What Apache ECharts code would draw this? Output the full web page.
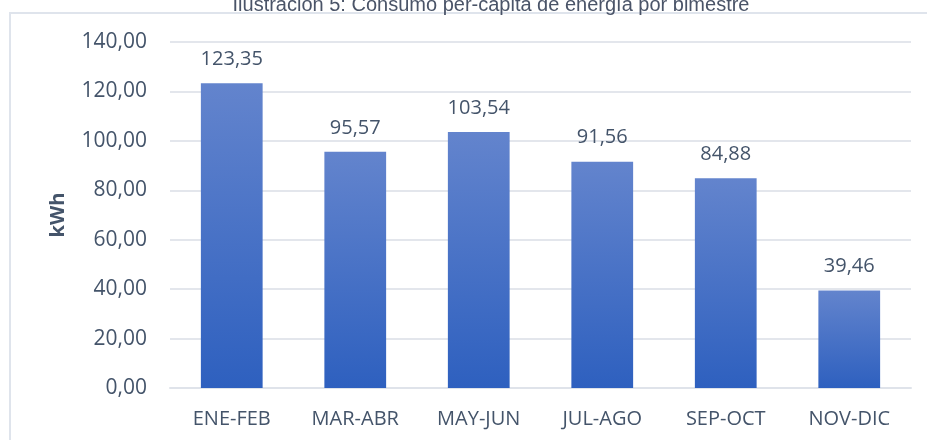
<!DOCTYPE html>
<html>
<head>
<meta charset="utf-8">
<script src="https://cdn.jsdelivr.net/npm/echarts@6/dist/echarts.min.js"></script>
<style>
  html, body { margin: 0; padding: 0; background: #fff; }
  #chart { width: 927px; height: 440px; }
</style>
</head>
<body>
<div id="chart"></div>
<script>
const titleText = 'Ilustración 5: Consumo per-cápita de energía por bimestre'
const categories = ['ENE-FEB', 'MAR-ABR', 'MAY-JUN', 'JUL-AGO', 'SEP-OCT', 'NOV-DIC']
const consumo = [123.35, 95.57, 103.54, 91.56, 84.88, 39.46]
const yTicks = { min: 0, max: 140, interval: 20 }

// comma as decimal separator
const fmt = v => Number(v).toFixed(2).replace('.', ',')

const chart = echarts.init(document.getElementById('chart'), null, { renderer: 'canvas' })

const textColor = '#44546a'
const font = '"Open Sans", "Noto Sans", sans-serif'

chart.setOption({
  animation: false,
  title: {
    text: titleText,
    left: 486,
    textAlign: 'center',
    top: -10,
    textStyle: { fontFamily: 'Liberation Sans, Arial', fontSize: 20, fontWeight: 'normal', color: '#4a5468' }
  },
  graphic: [{
    type: 'rect',
    shape: { x: 10, y: 13, width: 930, height: 440 },
    style: { fill: 'none', stroke: '#dfe4ec', lineWidth: 2 },
    z: -1
  }],
  grid: { left: 170, right: 16, top: 42, bottom: 52 },
  xAxis: {
    type: 'category',
    data: categories,
    axisTick: { show: false },
    axisLine: { lineStyle: { color: '#dfe3ea', width: 2 } },
    axisLabel: { color: textColor, fontFamily: font, fontSize: 20, margin: 21 }
  },
  yAxis: {
    type: 'value',
    min: yTicks.min,
    max: yTicks.max,
    interval: yTicks.interval,
    name: 'kWh',
    nameLocation: 'middle',
    nameGap: 102,
    nameRotate: 90,
    nameTextStyle: { color: textColor, fontFamily: font, fontSize: 20, fontWeight: 'bold' },
    axisLine: { show: false },
    axisTick: { show: false },
    splitLine: { lineStyle: { color: '#e3e6ec', width: 2 } },
    axisLabel: { color: textColor, fontFamily: font, fontSize: 21, margin: 23, formatter: fmt }
  },
  series: [{
    type: 'bar',
    data: consumo,
    barWidth: '50%',
    itemStyle: {
      color: new echarts.graphic.LinearGradient(0, 0, 0, 1, [
        { offset: 0, color: '#6384cd' },
        { offset: 1, color: '#2e60bf' }
      ])
    },
    label: {
      show: true,
      position: 'top',
      distance: 14,
      color: textColor,
      fontFamily: font,
      fontSize: 20,
      formatter: p => fmt(p.value)
    }
  }]
})
</script>
</body>
</html>
